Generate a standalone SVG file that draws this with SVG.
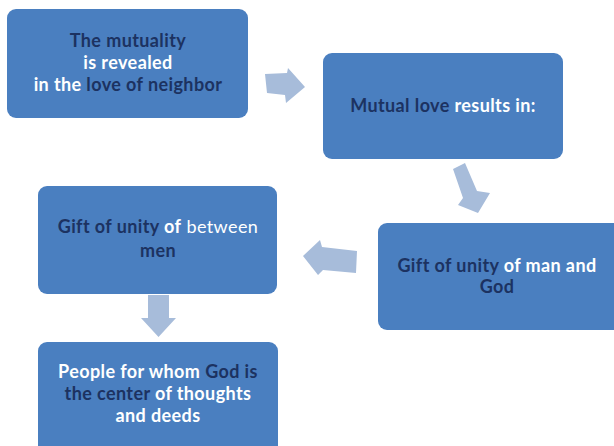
<svg xmlns="http://www.w3.org/2000/svg" width="614" height="446" viewBox="0 0 614 446">
<style>
.box{fill:#4A7FC0;}
.arr{fill:#A7BCDA;}
text{font-family:Lato,"Open Sans","Liberation Sans",sans-serif;font-size:18px;letter-spacing:0.4px;font-weight:bold;text-anchor:middle;}
.d{fill:#1C3261;}
.w{fill:#FFFFFF;}
.n{font-weight:normal;}
</style>
<rect width="614" height="446" fill="#FFFFFF"/>
<g id="connectors">
<polygon class="arr" points="265,74 287,73 288,68 305,87 286,103 285,95 267,93"/>
<polygon class="arr" points="453,169 465,163 477,191 490,193 478,213 458,205 463,198"/>
<polygon class="arr" points="303,256 320,240 322,247 357,251 356,273 323,270 318,275"/>
<polygon class="arr" points="148,295 169,295 169,318 176,318 158.5,337 141,318 148,318"/>
</g>
<g id="node1">
<rect class="box" x="7" y="9" width="241" height="109" rx="9"/>
<text x="128" y="47"><tspan class="d">The mutuality</tspan></text>
<text x="128" y="69"><tspan class="w">is revealed</tspan></text>
<text x="128" y="91"><tspan class="w">in the </tspan><tspan class="d">love of neighbor</tspan></text>
</g>
<g id="node2">
<rect class="box" x="323" y="53" width="240" height="106" rx="9"/>
<text x="443" y="112"><tspan class="d">Mutual love </tspan><tspan class="w">results in:</tspan></text>
</g>
<g id="node3">
<rect class="box" x="378" y="223" width="244" height="107" rx="9"/>
<text x="497" y="272"><tspan class="d">Gift of unity </tspan><tspan class="w">of man and</tspan></text>
<text x="497" y="293"><tspan class="d">God</tspan></text>
</g>
<g id="node4">
<rect class="box" x="38" y="186" width="239" height="108" rx="9"/>
<text x="158" y="233"><tspan class="d">Gift of unity </tspan><tspan class="w">of</tspan><tspan class="w n"> between</tspan></text>
<text x="158" y="257"><tspan class="d">men</tspan></text>
</g>
<g id="node5">
<rect class="box" x="38" y="342" width="240" height="115" rx="9"/>
<text x="158" y="378"><tspan class="w">People for whom </tspan><tspan class="d">God is</tspan></text>
<text x="158" y="400"><tspan class="d">the center </tspan><tspan class="w">of thoughts</tspan></text>
<text x="158" y="422"><tspan class="w">and deeds</tspan></text>
</g>
</svg>
